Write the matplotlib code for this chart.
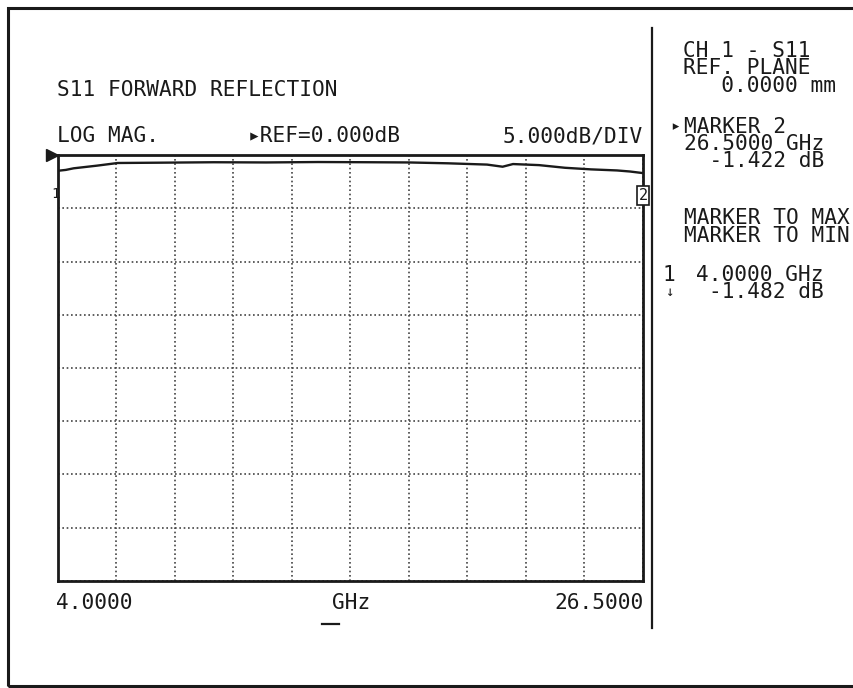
import matplotlib
matplotlib.use("Agg")
import matplotlib.pyplot as plt
import matplotlib.transforms as mtransforms
from matplotlib.lines import Line2D
from matplotlib.patches import Rectangle

# ── data ─────────────────────────────────────────────────────────────
freq_ghz = [4.0, 4.3, 4.6, 5.5, 6.3, 8.0, 10.0, 12.0, 14.0, 16.0, 17.5,
            19.0, 20.5, 21.1, 21.5, 22.5, 23.5, 24.5, 25.5, 26.0, 26.5]
s11_db = [-1.48, -1.40, -1.25, -1.00, -0.75, -0.72, -0.68, -0.70, -0.66,
          -0.68, -0.70, -0.78, -0.90, -1.10, -0.85, -0.95, -1.20, -1.35,
          -1.45, -1.55, -1.70]

F_START, F_STOP = 4.0, 26.5
REF_DB, DB_PER_DIV, N_YDIV, N_XDIV = 0.0, 5.0, 8, 10

W, H = 854, 688
FONT = ["DejaVu Sans Mono", "DejaVu Sans"]
FS = 15.2
LS = 0.83
INK = "#1a1a1a"


def fx(px):
    return px / W


def fy(py):
    return 1 - py / H


fig = plt.figure(figsize=(W / 100, H / 100), dpi=100)
fig.patch.set_facecolor("white")

# outer frame (right side runs off the page) and divider
fig.add_artist(Rectangle((fx(8), fy(686)), fx(860) - fx(8), fy(8) - fy(686),
                         transform=fig.transFigure, fill=False,
                         ec=INK, lw=2.2))
fig.add_artist(Line2D([fx(652), fx(652)], [fy(28), fy(628)],
                      transform=fig.transFigure, color=INK, lw=1.6))

# ── graticule ────────────────────────────────────────────────────────
ax = fig.add_axes([fx(58), fy(581), fx(643) - fx(58), fy(155) - fy(581)])
ax.set_xlim(F_START, F_STOP)
ax.set_ylim(REF_DB - N_YDIV * DB_PER_DIV, REF_DB)
step_x = (F_STOP - F_START) / N_XDIV
ax.set_xticks([F_START + i * step_x for i in range(N_XDIV + 1)])
ax.set_yticks([REF_DB - i * DB_PER_DIV for i in range(N_YDIV + 1)])
ax.tick_params(length=0, labelbottom=False, labelleft=False)
ax.grid(True, color="#444444", lw=1.2, ls=(0, (1, 1.6)))
for sp in ax.spines.values():
    sp.set_linewidth(2.0)
    sp.set_color(INK)

ax.plot(freq_ghz, s11_db, color=INK, lw=1.7, zorder=5)

# reference level pointer
tr_ref = mtransforms.offset_copy(ax.transData, fig=fig, x=-6, y=0, units="dots")
ax.plot([F_START], [REF_DB], marker=">", ms=9, color=INK, transform=tr_ref,
        clip_on=False, zorder=6)

# marker symbols
ax.annotate("1", (F_START, s11_db[0]), xytext=(-2, -16.5),
            textcoords="offset points", fontsize=10, family=FONT,
            ha="center", va="center", color=INK, annotation_clip=False)
ax.annotate("2", (F_STOP, s11_db[-1]), xytext=(0, -16),
            textcoords="offset points", fontsize=11, family=FONT,
            ha="center", va="center", color=INK, annotation_clip=False,
            bbox=dict(boxstyle="square,pad=0.12", fc="white", ec=INK, lw=1.2))


# ── annotation text ─────────────────────────────────────────────────
def txt(px, py, s, ha="left", size=FS, ma=None):
    fig.text(fx(px), fy(py), s, ha=ha, va="center", fontsize=size,
             family=FONT, color=INK, linespacing=LS,
             multialignment=ma or ha)


txt(57, 90, "S11 FORWARD REFLECTION")
txt(57, 136, "LOG MAG.")
txt(248, 136, "\u25B8REF=0.000dB")
txt(643, 136, "5.000dB/DIV", ha="right")

txt(56, 603, "4.0000")
txt(351, 603, "GHz", ha="center")
txt(644, 603, "26.5000", ha="right")
fig.add_artist(Line2D([fx(322), fx(339)], [fy(624), fy(624)],
                      transform=fig.transFigure, color=INK, lw=1.6))

txt(683, 68.5, "CH 1 - S11\nREF. PLANE\n   0.0000 mm")

txt(675, 126, "\u25B8", ha="center", size=12)
txt(684, 144, "MARKER 2\n26.5000 GHz\n  -1.422 dB")

txt(684, 227, "MARKER TO MAX\nMARKER TO MIN")

txt(669, 275, "1", ha="center")
txt(669, 292, "\u2193", ha="center", size=10)
txt(824, 283.5, "4.0000 GHz\n-1.482 dB", ha="right")

fig.savefig("out.png", dpi=100)
